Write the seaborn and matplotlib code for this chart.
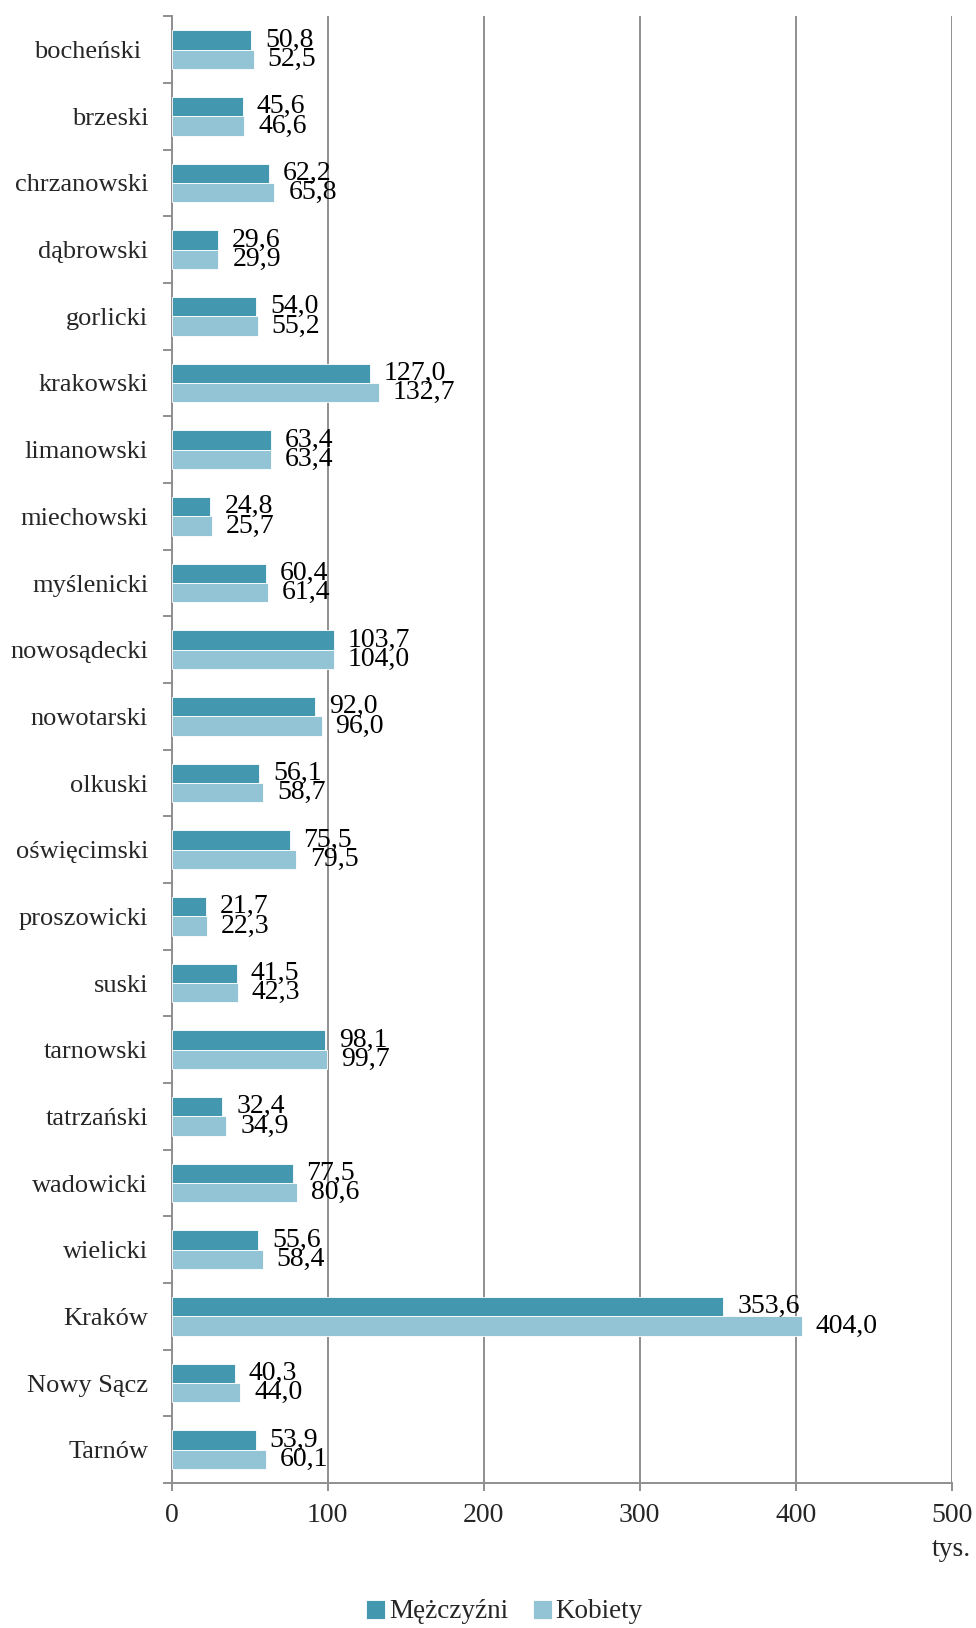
import numpy as np
import pandas as pd
import seaborn as sns
import matplotlib.pyplot as plt

# powiaty and cities
powiaty = ['bocheński ', 'brzeski', 'chrzanowski', 'dąbrowski', 'gorlicki', 'krakowski',
           'limanowski', 'miechowski', 'myślenicki', 'nowosądecki', 'nowotarski', 'olkuski',
           'oświęcimski', 'proszowicki', 'suski', 'tarnowski', 'tatrzański', 'wadowicki',
           'wielicki', 'Kraków', 'Nowy Sącz', 'Tarnów']
mezczyzni = [50.8, 45.6, 62.2, 29.6, 54.0, 127.0, 63.4, 24.8, 60.4, 103.7, 92.0, 56.1,
             75.5, 21.7, 41.5, 98.1, 32.4, 77.5, 55.6, 353.6, 40.3, 53.9]
kobiety = [52.5, 46.6, 65.8, 29.9, 55.2, 132.7, 63.4, 25.7, 61.4, 104.0, 96.0, 58.7,
           79.5, 22.3, 42.3, 99.7, 34.9, 80.6, 58.4, 404.0, 44.0, 60.1]
series = ['Mężczyźni', 'Kobiety']
x_ticks = [0, 100, 200, 300, 400, 500]

df = pd.DataFrame({'powiat': powiaty * 2,
                   'plec': [series[0]] * len(powiaty) + [series[1]] * len(powiaty),
                   'ludnosc': mezczyzni + kobiety})

sns.set_style('white')
plt.rcParams['font.family'] = ['Liberation Serif', 'DejaVu Serif']
FS = 20

fig = plt.figure(figsize=(9.76, 16.28), dpi=100)
ax = fig.add_axes([0.176, 0.089, 0.799, 0.901])

gray = '#8f8f8f'
sns.barplot(data=df, y='powiat', x='ludnosc', hue='plec', orient='h',
            palette=['#4397AE', '#92C4D5'], saturation=1, width=0.58, gap=0,
            edgecolor='white', linewidth=0.6, ax=ax, zorder=3)

for cont in ax.containers:
    labels = [f'{b.get_width():.1f}'.replace('.', ',') for b in cont]
    ax.bar_label(cont, labels=labels, padding=10, fontsize=FS, color='black')

ax.set_xlim(0, 500)
ax.set_ylim(len(powiaty) - 0.5, -0.5)
ax.set_xticks(x_ticks)
ax.set_xticklabels([str(t) for t in x_ticks], fontsize=FS)
ax.set_xlabel('')
ax.set_ylabel('')
ax.grid(axis='x', color=gray, linewidth=1.4, zorder=0)
ax.grid(axis='y', visible=False)

# ticks on category boundaries
ax.set_yticks(np.arange(-0.5, len(powiaty)), minor=True)
ax.tick_params(axis='y', which='major', length=0, pad=17, labelsize=19)
ax.tick_params(axis='y', which='minor', length=6.5, width=1.4, color=gray, left=True)
ax.tick_params(axis='x', which='major', length=6, width=1.4, color=gray, bottom=True, pad=8)

for s in ['top', 'right']:
    ax.spines[s].set_visible(False)
for s in ['left', 'bottom']:
    ax.spines[s].set_color(gray)
    ax.spines[s].set_linewidth(1.4)

fig.text(0.995, 1 - 1549 / 1628, 'tys.', ha='right', va='center', fontsize=FS)

handles, _ = ax.get_legend_handles_labels()
ax.get_legend().remove()
fig.legend(handles, series, loc='center', bbox_to_anchor=(0.517, 1 - 1612 / 1628),
           ncol=2, frameon=False, fontsize=19.5, handlelength=0.7, handleheight=0.7,
           handletextpad=0.15, columnspacing=0.9)

plt.savefig('out.png', dpi=100)
